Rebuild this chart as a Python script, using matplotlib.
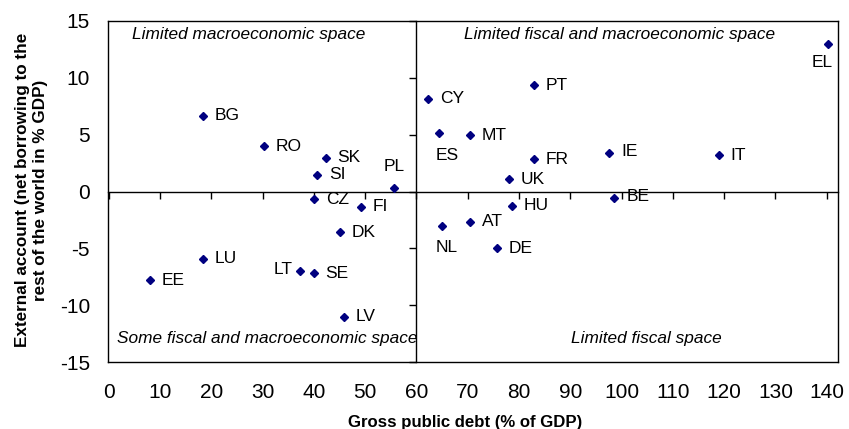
import matplotlib
matplotlib.use("Agg")
import matplotlib.pyplot as plt

plt.rcParams['font.family'] = ['Liberation Sans', 'DejaVu Sans']
plt.rcParams['axes.unicode_minus'] = False

countries = ["BG", "RO", "SK", "SI", "PL", "CZ", "FI", "EL", "PT", "CY", "ES", "MT",
             "FR", "IE", "IT", "UK", "BE", "HU", "DK", "LU", "EE", "LT", "SE", "LV",
             "NL", "AT", "DE"]
debt = [18.3, 30.3, 42.3, 40.7, 55.6, 40.0, 49.2, 140.3, 82.9, 62.3, 64.4, 70.5,
        82.9, 97.6, 119.0, 78.0, 98.6, 78.6, 45.0, 18.4, 8.0, 37.3, 40.0, 45.9,
        64.9, 70.5, 75.7]
external = [6.68, 3.97, 2.97, 1.47, 0.27, -0.67, -1.35, 12.95, 9.33, 8.18, 5.15, 4.94,
            2.82, 3.42, 3.18, 1.06, -0.56, -1.26, -3.59, -5.91, -7.79, -6.97, -7.18, -11.03,
            -3.0, -2.65, -5.0]

x_ticks = list(range(0, 141, 10))
y_ticks = list(range(-15, 16, 5))

quadrant_labels = ["Limited macroeconomic space", "Limited fiscal and macroeconomic space",
                   "Some fiscal and macroeconomic space", "Limited fiscal space"]

# label placement (offset in points, ha, va)
default_pos = ((8.5, 0), 'left', 'center')
special_pos = {
    "EL": ((3, -13), 'right', 'center'),
    "ES": ((6, -16), 'center', 'center'),
    "NL": ((4, -16), 'center', 'center'),
    "PL": ((0, 16), 'center', 'center'),
    "LT": ((-5, 1), 'right', 'center'),
    "IE": ((8.5, 1), 'left', 'center'),
    "BE": ((8.5, 1), 'left', 'center'),
}

fig = plt.figure(figsize=(8.49, 4.29), dpi=100)
pos = [108/849, 1-362/429, 730/849, 341/429]
ax = fig.add_axes(pos)
xlim = (-0.14, 142.2)
ylim = (-15, 15)
ax.set_xlim(*xlim)
ax.set_ylim(*ylim)
ax.set_xticks(x_ticks)
ax.set_yticks(y_ticks)
ax.tick_params(length=0, labelsize=15, colors='black')
ax.tick_params(axis='y', pad=13)
ax.tick_params(axis='x', pad=15)
for s in ax.spines.values():
    s.set_linewidth(1.0)
    s.set_color('black')

# crossing axes with ticks
ax2 = fig.add_axes(pos, facecolor='none')
ax2.set_xlim(*xlim)
ax2.set_ylim(*ylim)
ax2.set_xticks(x_ticks)
ax2.set_yticks(y_ticks)
ax2.spines['left'].set_position(('data', 60))
ax2.spines['bottom'].set_position(('data', 0))
ax2.spines['top'].set_visible(False)
ax2.spines['right'].set_visible(False)
ax2.spines['left'].set_linewidth(1.0)
ax2.spines['bottom'].set_linewidth(1.0)
ax2.tick_params(direction='out', length=5, width=1.0, labelleft=False, labelbottom=False)

ax2.plot(debt, external, linestyle='none', marker='D', markersize=4.4,
         color='#000080', zorder=5)

for c, xv, yv in zip(countries, debt, external):
    off, ha, va = special_pos.get(c, default_pos)
    ax2.annotate(c, (xv, yv), xytext=off, textcoords='offset points',
                 ha=ha, va=va, fontsize=12.5, color='black')

qpos = [(27.35, 13.83), (99.7, 13.83), (30.9, -12.9), (104.9, -12.9)]
for lab, (qx, qy) in zip(quadrant_labels, qpos):
    ax2.text(qx, qy, lab, ha='center', va='center', fontsize=12.4, style='italic')

fig.text(465/849, 1-423/429, "Gross public debt (% of GDP)", ha='center', va='center',
         fontsize=12.1, fontweight='bold')
fig.text(32/849, 1-190/429, "External account (net borrowing to the\nrest of the world in % GDP)",
         ha='center', va='center', rotation=90, fontsize=12.3, fontweight='bold',
         multialignment='center', linespacing=1.25)

fig.savefig("out.png", dpi=100)
